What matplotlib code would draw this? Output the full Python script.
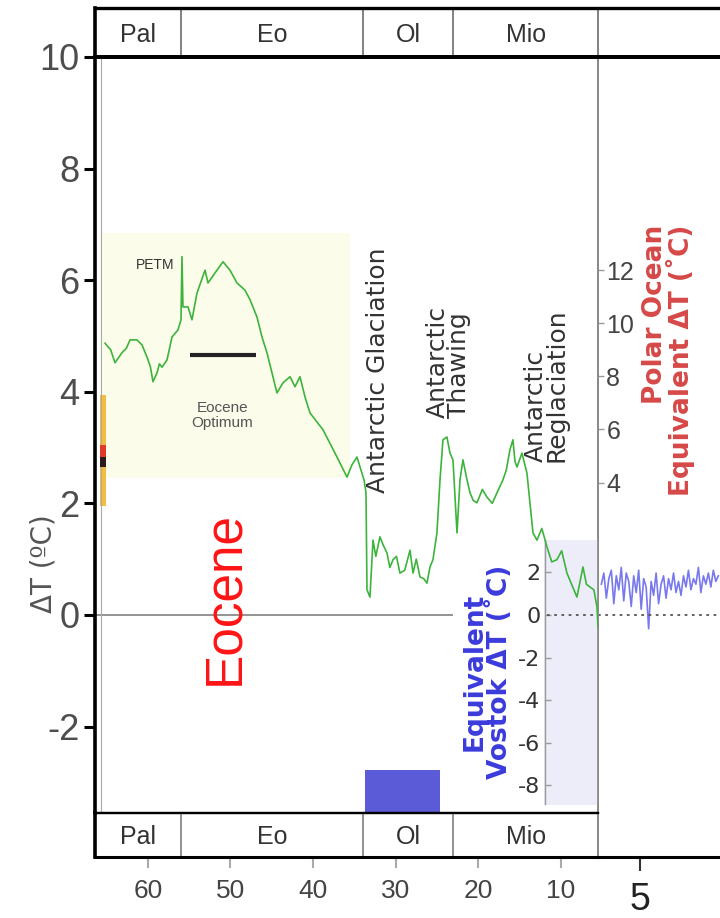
import numpy as np
import matplotlib
matplotlib.use('Agg')
import matplotlib.pyplot as plt

plt.rcParams['font.family'] = ['DejaVu Sans']
plt.rcParams['axes.unicode_minus'] = False

NARROW = ['Liberation Sans Narrow', 'DejaVu Sans Condensed', 'Liberation Sans', 'DejaVu Sans']
ARIAL = ['Liberation Sans', 'DejaVu Sans']

# ---- data -------------------------------------------------------------
epoch_names = ['Pal', 'Eo', 'Ol', 'Mio']
epoch_edges = [66.4, 56.0, 33.9, 23.0, 5.5]     # Ma, oldest first

age_ticks = [60, 50, 40, 30, 20, 10]
dT_ticks = [-2, 0, 2, 4, 6, 8, 10]
polar_ticks = [4, 6, 8, 10, 12]
vostok_ticks = [-8, -6, -4, -2, 0, 2]

# deep-ocean temperature anomaly (green), age in Ma
green_age = [65.19, 64.50, 63.98, 63.13, 62.60, 62.16, 61.32, 60.71, 60.10, 59.70,
             59.38, 58.89, 58.60, 58.29, 57.68, 57.08, 56.35, 55.99, 55.87, 55.75,
             55.14, 54.66, 54.05, 53.08, 52.72, 51.87, 50.90, 50.06, 49.21, 48.24,
             47.63, 46.79, 46.18, 45.58, 44.37, 43.64, 42.79, 42.19, 41.58, 40.98,
             40.37, 38.80, 37.10, 35.89, 35.29, 34.68, 34.08, 33.83, 33.59, 33.47,
             33.11, 32.74, 32.40, 31.90, 31.50, 31.05, 30.70, 30.32, 29.90, 29.48,
             28.90, 28.26, 27.90, 27.50, 27.05, 26.60, 26.21, 25.84, 25.48, 25.00,
             24.63, 24.27, 23.79, 23.42, 23.06, 22.57, 22.21, 21.85, 21.40, 21.00,
             20.60, 20.15, 19.50, 18.94, 18.30, 17.73, 17.01, 16.60, 16.16, 15.80,
             15.55, 15.31, 14.71, 14.10, 13.74, 13.37, 12.89, 12.30, 11.68, 11.10,
             10.47, 9.90, 9.26, 8.70, 8.05, 7.32, 6.90, 6.47, 6.00, 5.62, 5.50]
green_dT = [4.87, 4.75, 4.52, 4.70, 4.78, 4.93, 4.93, 4.84, 4.62, 4.45,
            4.18, 4.34, 4.50, 4.44, 4.57, 4.98, 5.11, 5.29, 6.42, 5.52,
            5.52, 5.29, 5.77, 6.18, 5.95, 6.13, 6.33, 6.18, 5.95, 5.82,
            5.65, 5.34, 4.98, 4.70, 3.98, 4.16, 4.27, 4.09, 4.27, 3.91,
            3.62, 3.32, 2.83, 2.47, 2.69, 2.83, 2.54, 2.42, 2.19, 0.45,
            0.32, 1.34, 1.05, 1.40, 1.25, 1.11, 0.85, 0.99, 1.05, 0.75,
            0.80, 1.16, 0.75, 1.00, 0.68, 0.65, 0.57, 0.86, 0.99, 1.47,
            2.42, 3.14, 3.19, 2.90, 2.78, 1.47, 2.42, 2.78, 2.45, 2.19,
            2.05, 2.01, 2.25, 2.11, 2.00, 2.19, 2.42, 2.60, 2.96, 3.14,
            2.75, 2.65, 2.90, 2.54, 2.01, 1.47, 1.34, 1.55, 1.22, 0.95,
            0.99, 1.15, 0.75, 0.55, 0.32, 0.86, 0.55, 0.50, 0.45, 0.14, -0.22]

# Vostok-type record on the expanded right panel (same dT scale)
vostok_dT = [0.55, 0.75, 0.30, 0.65, 0.80, 0.20, 0.70, 0.45, 0.85, 0.25,
             0.75, 0.60, 0.15, 0.70, 0.40, 0.80, 0.10, 0.65, 0.50, -0.25,
             0.60, 0.35, 0.75, 0.20, 0.55, 0.70, 0.30, 0.65, 0.45, 0.75,
             0.40, 0.60, 0.35, 0.70, 0.50, 0.80, 0.45, 0.65, 0.55, 0.85,
             0.40, 0.70, 0.55, 0.75, 0.50, 0.80, 0.60, 0.70]

# shaded regions: (age_old, age_young, dT_low, dT_high)
eocene_box = (65.8, 35.5, 2.45, 6.85)
vostok_box = (12.0, 5.5, -3.4, 1.35)
oligo_block = (33.7, 24.6, -3.55, -2.78)
proxy_range = (65.8, 65.07, 1.95, 3.95)
proxy_red = (65.8, 65.07, 2.83, 3.05)
proxy_black = (65.8, 65.07, 2.65, 2.83)
optimum_span = (54.9, 46.9, 4.66)

# scale relations of the two extra axes
POLAR_A, POLAR_B = 2.1, -0.98
VOSTOK_A = 2.62

# ---- layout (pixels of a 720x918 canvas) ------------------------------
W, H = 720.0, 918.0
def box(x0, y0, x1, y1):
    return [x0 / W, 1 - y1 / H, (x1 - x0) / W, (y1 - y0) / H]

fig = plt.figure(figsize=(7.2, 9.18), dpi=100)
fig.patch.set_facecolor('white')

ax_r = fig.add_axes(box(598, 57, 720, 857))
ax = fig.add_axes(box(95, 57, 598, 813))
ax_t = fig.add_axes(box(95, 8, 720, 57))
ax_b = fig.add_axes(box(95, 813, 598, 857))
for a in (ax, ax_r, ax_t, ax_b):
    a.patch.set_visible(False)

x_old, x_young = epoch_edges[0], epoch_edges[-1]

# ---- main panel --------------------------------------------------------
ax.set_xlim(x_old, x_young)
ax.set_ylim(-3.55, 10)

def rect(a, spec, color, z=0):
    a.fill_between([spec[0], spec[1]], spec[2], spec[3], color=color, lw=0, zorder=z)

rect(ax, eocene_box, '#fcfceb', 0)
rect(ax, vostok_box, '#ededfa', 0)
rect(ax, oligo_block, '#5b5bd8', 2)
rect(ax, proxy_range, '#f2bd45', 2)
rect(ax, proxy_red, '#e03a2a', 3)
rect(ax, proxy_black, '#2a1a1a', 3)

ax.hlines(0, x_old, 23.0, color='#8a8a8a', lw=1.3, zorder=1)
ax.hlines(0, 11.7, x_young, color='#555555', lw=1.3, linestyles=(0, (1.5, 2.5)), zorder=1)
ax.plot([0.012, 0.012], [0, 1], transform=ax.transAxes, color='#aaaaaa', lw=0.8)

ax.plot(green_age, green_dT, color='#3cb43c', lw=1.2, zorder=4)

ax.hlines(optimum_span[2], optimum_span[0], optimum_span[1], color='#222222', lw=3, zorder=4)
ax.text(51.0, 3.58, 'Eocene\nOptimum', ha='center', va='center', fontsize=11,
        family=NARROW, color='#555555', linespacing=1.1)
ax.text(59.1, 6.27, 'PETM', ha='center', va='center', fontsize=10,
        family=NARROW, color='#333333')

ax.text(32.1, 2.19, 'Antarctic Glaciation', rotation=90, ha='center', va='bottom',
        fontsize=18, color='#333333')
ax.text(23.65, 3.53, 'Antarctic\nThawing', rotation=90, ha='center', va='bottom',
        multialignment='left', fontsize=18, color='#333333', linespacing=0.85)
ax.text(11.8, 2.74, 'Antarctic\nReglaciation', rotation=90, ha='center', va='bottom',
        multialignment='left', fontsize=18, color='#333333', linespacing=0.85)

ax.text(50.66, 0.30, 'Eocene', rotation=90, ha='center', va='center',
        fontsize=37, family=ARIAL, color='#ff1414')

ax.text(18.9, -1.02, 'Equivalent\nVostok ΔT (˚C)', rotation=90, ha='center', va='center',
        multialignment='center', fontsize=19, fontweight='bold', color='#3b3bdc',
        linespacing=0.88)
ax.text(-3.0, 7.0, 'Polar Ocean\nEquivalent ΔT (˚C)', rotation=90, ha='center', va='top',
        multialignment='right', fontsize=19, fontweight='bold', color='#d64848',
        linespacing=0.9)

ax.set_xticks([])
ax.set_yticks(dT_ticks)
ax.tick_params(axis='y', direction='out', length=8, width=2.2, color='black',
               labelsize=26, labelcolor='#4d4d4d', pad=3)
for lab in ax.get_yticklabels():
    lab.set_family(NARROW)
ax.set_ylabel('ΔT (ºC)', fontsize=20, color='#555555')
ax.yaxis.set_label_coords(-0.075, 0.33)

ax.spines['left'].set_linewidth(2.6)
ax.spines['top'].set_linewidth(2.6)
ax.spines['bottom'].set_linewidth(1.6)
ax.spines['right'].set_color('#888888')
ax.spines['right'].set_linewidth(1.2)

# Vostok axis inside the panel
vloc = (x_old - 11.95) / (x_old - x_young)
sec_v = ax.secondary_yaxis(vloc, functions=(lambda y: y * VOSTOK_A, lambda v: v / VOSTOK_A))
sec_v.set_alignment('left')
sec_v.set_yticks(vostok_ticks)
sec_v.spines['left'].set_bounds(-8.9, 3.5)
sec_v.spines['left'].set_color('#999999')
sec_v.spines['left'].set_linewidth(1.0)
sec_v.tick_params(direction='in', length=4, width=1, color='#999999',
                  labelsize=16, labelcolor='#333333', pad=3)

# Polar ocean axis on the right edge
sec_p = ax.secondary_yaxis('right', functions=(lambda y: POLAR_A * y + POLAR_B,
                                               lambda p: (p - POLAR_B) / POLAR_A))
sec_p.set_yticks(polar_ticks)
sec_p.spines['right'].set_visible(False)
sec_p.tick_params(direction='out', length=4, width=1, color='#999999',
                  labelsize=18, labelcolor='#444444', pad=2)
for lab in sec_p.get_yticklabels():
    lab.set_family(NARROW)

# ---- right (expanded) panel -------------------------------------------
ax_r.set_xlim(5.5, 4.05)
ax_r.set_ylim(-4.34, 10)
vostok_age = np.linspace(5.46, 4.07, len(vostok_dT))
ax_r.plot(vostok_age, vostok_dT, color='#6a6aee', lw=1.2, alpha=0.9)
ax_r.axhline(0, color='#555555', lw=1.3, ls=(0, (1.5, 2.5)))
ax_r.set_yticks([])
ax_r.set_xticks([5])
ax_r.tick_params(axis='x', direction='out', length=10, width=1.5, color='#333333',
                 labelsize=27, labelcolor='#222222', pad=8)
for lab in ax_r.get_xticklabels():
    lab.set_family(ARIAL)
ax_r.spines['right'].set_visible(False)
ax_r.spines['left'].set_color('#888888')
ax_r.spines['left'].set_linewidth(1.2)
ax_r.spines['top'].set_linewidth(2.6)
ax_r.spines['bottom'].set_linewidth(2.2)

# ---- epoch bands --------------------------------------------------------
mids = [(epoch_edges[i] + epoch_edges[i + 1]) / 2 for i in range(len(epoch_names))]

ax_t.set_xlim(x_old, x_old - (x_old - x_young) * 625 / 503)
ax_t.set_ylim(0, 1)
ax_t.set_xticks([]); ax_t.set_yticks([])
for e in epoch_edges[1:]:
    ax_t.axvline(e, color='#777777', lw=1.3)
for name, m in zip(epoch_names, mids):
    ax_t.text(m, 0.45, name, ha='center', va='center', fontsize=18,
              family=NARROW, color='#333333')
ax_t.spines['right'].set_visible(False)
ax_t.spines['top'].set_linewidth(2.4)
ax_t.spines['bottom'].set_linewidth(2.8)
ax_t.spines['left'].set_linewidth(2.6)

ax_b.set_xlim(x_old, x_young)
ax_b.set_ylim(0, 1)
ax_b.set_yticks([])
for e in epoch_edges[1:-1]:
    ax_b.axvline(e, color='#888888', lw=1.3)
for name, m in zip(epoch_names, mids):
    ax_b.text(m, 0.45, name, ha='center', va='center', fontsize=18,
              family=NARROW, color='#333333')
ax_b.set_xticks(age_ticks)
ax_b.tick_params(axis='x', direction='out', length=8, width=1.5, color='#aaaaaa',
                 labelsize=19, labelcolor='#444444', pad=8)
for lab in ax_b.get_xticklabels():
    lab.set_family(NARROW)
ax_b.spines['left'].set_linewidth(2.6)
ax_b.spines['bottom'].set_linewidth(2.2)
ax_b.spines['top'].set_linewidth(1.6)
ax_b.spines['right'].set_color('#888888')
ax_b.spines['right'].set_linewidth(1.2)

fig.savefig('out.png', dpi=100)
